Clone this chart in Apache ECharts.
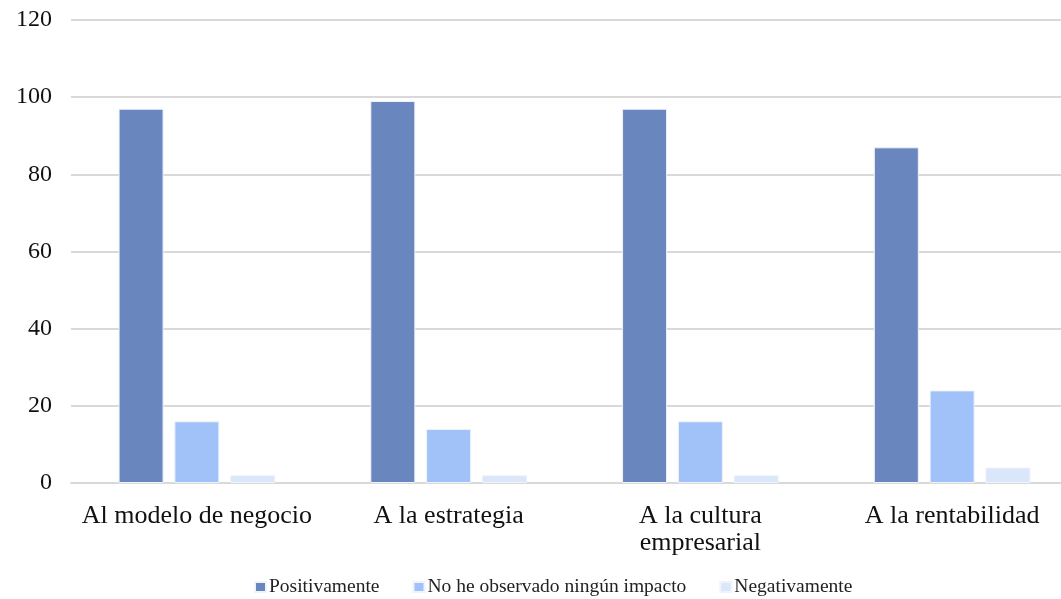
<!DOCTYPE html>
<html>
<head>
<meta charset="utf-8">
<script src="https://cdn.jsdelivr.net/npm/echarts@6/dist/echarts.min.js"></script>
<style>
  html, body { margin: 0; padding: 0; background: #fff; }
  #chart { width: 1061px; height: 599px; }
</style>
</head>
<body>
<div id="chart"></div>
<script>
const categories = ['Al modelo de negocio', 'A la estrategia', 'A la cultura\nempresarial', 'A la rentabilidad']
const seriesNames = ['Positivamente', 'No he observado ningún impacto', 'Negativamente']
const positivamente = [97, 99, 97, 87]
const sinImpacto = [16, 14, 16, 24]
const negativamente = [2, 2, 2, 4]
const colors = ['#6a86be', '#a0c2f9', '#dae6f9']

const chart = echarts.init(document.getElementById('chart'))

// estilo compartido de las barras
const barBase = {
  type: 'bar',
  barWidth: 45,
  barGap: '24%',
  itemStyle: { borderColor: '#eef3fc', borderWidth: 1 },
}

chart.setOption({
  animation: false,
  textStyle: { fontFamily: 'Liberation Serif' },
  // el área de trazado sigue más allá del borde derecho (imagen recortada)
  grid: { left: 71, top: 20, width: 1007, bottom: 116, outerBoundsMode: 'none' },
  legend: {
    bottom: -3,
    left: 249,
    itemWidth: 11,
    itemHeight: 10,
    itemGap: 33,
    icon: 'rect',
    textStyle: { fontSize: 19.5, color: '#222', fontFamily: 'Liberation Serif', padding: [0, 0, 0, -2] },
    data: seriesNames,
  },
  xAxis: {
    type: 'category',
    data: categories,
    axisLine: { lineStyle: { color: '#d9d9d9', width: 2 } },
    axisTick: { show: false },
    axisLabel: { fontSize: 26, color: '#111', margin: 20, lineHeight: 27, interval: 0 },
  },
  yAxis: {
    type: 'value',
    min: 0,
    max: 120,
    interval: 20,
    axisLine: { show: false },
    axisTick: { show: false },
    splitLine: { lineStyle: { color: '#d9d9d9', width: 2 } },
    axisLabel: { fontSize: 24, color: '#111', margin: 19 },
  },
  series: [
    { ...barBase, name: seriesNames[0], data: positivamente, itemStyle: { ...barBase.itemStyle, color: colors[0] } },
    { ...barBase, name: seriesNames[1], data: sinImpacto, itemStyle: { ...barBase.itemStyle, color: colors[1] } },
    { ...barBase, name: seriesNames[2], data: negativamente, itemStyle: { ...barBase.itemStyle, color: colors[2] } },
  ],
})
</script>
</body>
</html>
